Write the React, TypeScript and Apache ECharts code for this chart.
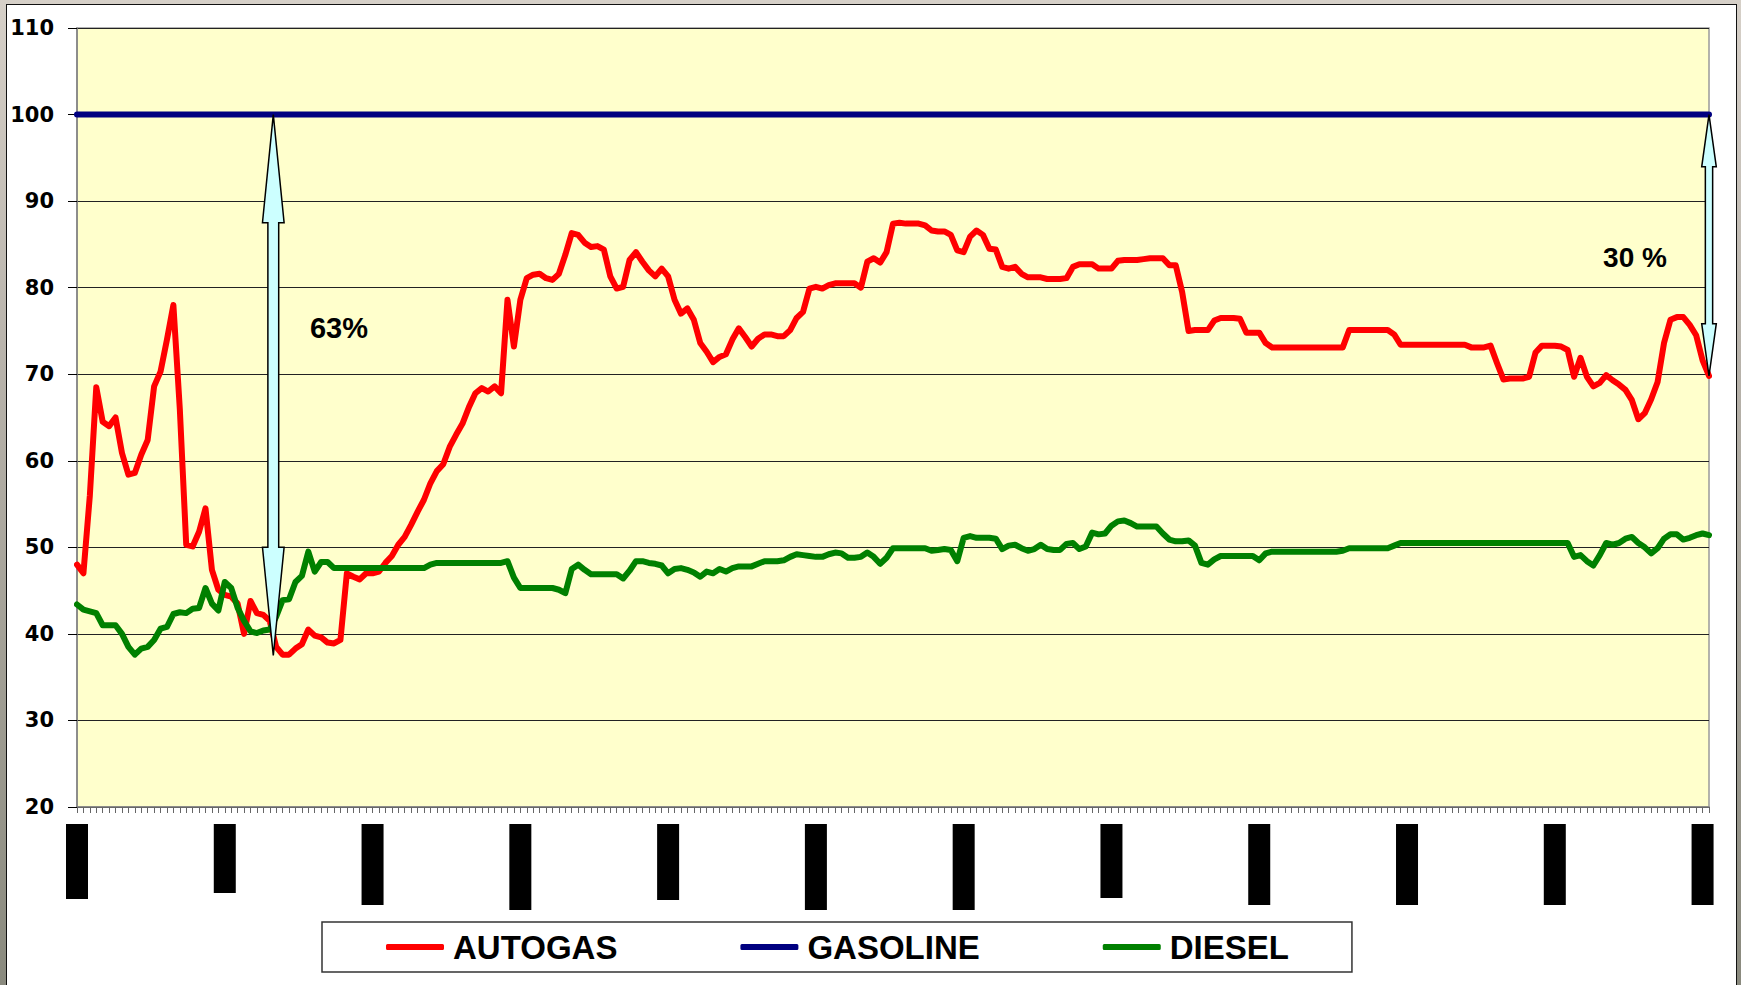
import { useEffect, useRef } from "react";
import * as echarts from "echarts";

// ---- data (255 weekly points, index = category) ----
const AUTOGAS = [
  48.0, 47.0, 56.0, 68.5, 64.5, 64.0, 65.0, 60.9, 58.4, 58.6, 60.7, 62.4, 68.6, 70.3, 74.0,
  78.0, 66.0, 50.3, 50.1, 51.8, 54.5, 47.4, 45.1, 44.5, 44.3, 43.5, 40.0, 43.8, 42.4, 42.2,
  41.5, 38.5, 37.6, 37.6, 38.3, 38.8, 40.5, 39.8, 39.6, 39.0, 38.9, 39.3, 47.0, 46.6, 46.3,
  47.0, 47.0, 47.2, 48.2, 49.0, 50.3, 51.2, 52.6, 54.1, 55.5, 57.4, 58.8, 59.6, 61.6, 63.0,
  64.3, 66.2, 67.8, 68.4, 68.0, 68.6, 67.8, 78.6, 73.2, 78.6, 81.1, 81.5, 81.6, 81.1, 80.9,
  81.6, 83.8, 86.3, 86.1, 85.2, 84.7, 84.8, 84.4, 81.3, 79.9, 80.1, 83.2, 84.1, 83.0, 82.0,
  81.3, 82.2, 81.3, 78.6, 77.0, 77.6, 76.3, 73.6, 72.6, 71.4, 72.0, 72.3, 74.0, 75.3, 74.3,
  73.2, 74.1, 74.6, 74.6, 74.4, 74.4, 75.1, 76.5, 77.2, 79.9, 80.1, 79.9, 80.3, 80.5, 80.5,
  80.5, 80.5, 80.0, 83.0, 83.4, 82.9, 84.1, 87.4, 87.5, 87.4, 87.4, 87.4, 87.2, 86.6, 86.5,
  86.5, 86.1, 84.3, 84.1, 85.9, 86.6, 86.1, 84.5, 84.4, 82.4, 82.2, 82.4, 81.6, 81.2, 81.2,
  81.2, 81.0, 81.0, 81.0, 81.1, 82.4, 82.7, 82.7, 82.7, 82.2, 82.2, 82.2, 83.1, 83.2, 83.2,
  83.2, 83.3, 83.4, 83.4, 83.4, 82.6, 82.6, 79.5, 75.0, 75.1, 75.1, 75.1, 76.2, 76.5, 76.5,
  76.5, 76.4, 74.8, 74.8, 74.8, 73.6, 73.1, 73.1, 73.1, 73.1, 73.1, 73.1, 73.1, 73.1, 73.1,
  73.1, 73.1, 73.1, 75.1, 75.1, 75.1, 75.1, 75.1, 75.1, 75.1, 74.6, 73.4, 73.4, 73.4, 73.4,
  73.4, 73.4, 73.4, 73.4, 73.4, 73.4, 73.4, 73.1, 73.1, 73.1, 73.3, 71.3, 69.4, 69.5, 69.5,
  69.5, 69.7, 72.5, 73.3, 73.3, 73.3, 73.2, 72.8, 69.7, 71.9, 69.7, 68.6, 69.0, 69.9, 69.3,
  68.8, 68.2, 67.0, 64.8, 65.5, 67.1, 69.1, 73.6, 76.3, 76.6, 76.6, 75.7, 74.5, 71.6, 69.8,
];

const GASOLINE = [
  100, 100, 100, 100, 100, 100, 100, 100, 100, 100, 100, 100, 100, 100, 100,
  100, 100, 100, 100, 100, 100, 100, 100, 100, 100, 100, 100, 100, 100, 100,
  100, 100, 100, 100, 100, 100, 100, 100, 100, 100, 100, 100, 100, 100, 100,
  100, 100, 100, 100, 100, 100, 100, 100, 100, 100, 100, 100, 100, 100, 100,
  100, 100, 100, 100, 100, 100, 100, 100, 100, 100, 100, 100, 100, 100, 100,
  100, 100, 100, 100, 100, 100, 100, 100, 100, 100, 100, 100, 100, 100, 100,
  100, 100, 100, 100, 100, 100, 100, 100, 100, 100, 100, 100, 100, 100, 100,
  100, 100, 100, 100, 100, 100, 100, 100, 100, 100, 100, 100, 100, 100, 100,
  100, 100, 100, 100, 100, 100, 100, 100, 100, 100, 100, 100, 100, 100, 100,
  100, 100, 100, 100, 100, 100, 100, 100, 100, 100, 100, 100, 100, 100, 100,
  100, 100, 100, 100, 100, 100, 100, 100, 100, 100, 100, 100, 100, 100, 100,
  100, 100, 100, 100, 100, 100, 100, 100, 100, 100, 100, 100, 100, 100, 100,
  100, 100, 100, 100, 100, 100, 100, 100, 100, 100, 100, 100, 100, 100, 100,
  100, 100, 100, 100, 100, 100, 100, 100, 100, 100, 100, 100, 100, 100, 100,
  100, 100, 100, 100, 100, 100, 100, 100, 100, 100, 100, 100, 100, 100, 100,
  100, 100, 100, 100, 100, 100, 100, 100, 100, 100, 100, 100, 100, 100, 100,
  100, 100, 100, 100, 100, 100, 100, 100, 100, 100, 100, 100, 100, 100, 100,
];

const DIESEL = [
  43.4, 42.8, 42.6, 42.4, 41.0, 41.0, 41.0, 40.0, 38.5, 37.6, 38.3, 38.5, 39.3, 40.6, 40.8,
  42.3, 42.5, 42.4, 42.9, 43.0, 45.3, 43.5, 42.7, 46.0, 45.3, 43.0, 41.5, 40.3, 40.1, 40.4,
  40.5, 42.0, 43.9, 44.0, 46.0, 46.7, 49.5, 47.2, 48.3, 48.3, 47.6, 47.6, 47.6, 47.6, 47.6,
  47.6, 47.6, 47.6, 47.6, 47.6, 47.6, 47.6, 47.6, 47.6, 47.6, 48.0, 48.2, 48.2, 48.2, 48.2,
  48.2, 48.2, 48.2, 48.2, 48.2, 48.2, 48.2, 48.4, 46.5, 45.3, 45.3, 45.3, 45.3, 45.3, 45.3,
  45.1, 44.7, 47.5, 48.0, 47.4, 46.9, 46.9, 46.9, 46.9, 46.9, 46.4, 47.3, 48.4, 48.4, 48.2,
  48.1, 47.9, 47.0, 47.5, 47.6, 47.4, 47.1, 46.6, 47.2, 47.0, 47.5, 47.2, 47.6, 47.8, 47.8,
  47.8, 48.1, 48.4, 48.4, 48.4, 48.5, 48.9, 49.2, 49.1, 49.0, 48.9, 48.9, 49.2, 49.4, 49.3,
  48.8, 48.8, 48.9, 49.4, 48.9, 48.1, 48.8, 49.9, 49.9, 49.9, 49.9, 49.9, 49.9, 49.6, 49.7,
  49.8, 49.7, 48.4, 51.1, 51.3, 51.1, 51.1, 51.1, 51.0, 49.8, 50.2, 50.3, 49.9, 49.6, 49.8,
  50.3, 49.8, 49.7, 49.7, 50.4, 50.5, 49.8, 50.1, 51.7, 51.5, 51.6, 52.5, 53.0, 53.1, 52.8,
  52.4, 52.4, 52.4, 52.4, 51.6, 50.9, 50.7, 50.7, 50.8, 50.2, 48.2, 48.0, 48.6, 49.0, 49.0,
  49.0, 49.0, 49.0, 49.0, 48.5, 49.3, 49.5, 49.5, 49.5, 49.5, 49.5, 49.5, 49.5, 49.5, 49.5,
  49.5, 49.5, 49.6, 49.9, 49.9, 49.9, 49.9, 49.9, 49.9, 49.9, 50.2, 50.5, 50.5, 50.5, 50.5,
  50.5, 50.5, 50.5, 50.5, 50.5, 50.5, 50.5, 50.5, 50.5, 50.5, 50.5, 50.5, 50.5, 50.5, 50.5,
  50.5, 50.5, 50.5, 50.5, 50.5, 50.5, 50.5, 50.5, 48.9, 49.1, 48.4, 47.9, 49.1, 50.5, 50.3,
  50.5, 51.0, 51.2, 50.5, 50.0, 49.3, 49.9, 51.0, 51.5, 51.5, 50.9, 51.1, 51.4, 51.6, 51.4,
];

const CATEGORIES = AUTOGAS.map((_, i) => `${i + 1}`);
const SERIES_NAMES = ["AUTOGAS", "GASOLINE", "DIESEL"];
const Y_MIN = 20;
const Y_MAX = 110;
const Y_STEP = 10;

// gap arrows: category index, fractional offset, top value, bottom value
const ARROW_INDEX = [30, 254];
const ARROW_OFFSET = [0.55, 0];
const ARROW_TOP = [100, 100];
const ARROW_BOTTOM = [37.5, 69.8];
const ANNOTATION_TEXTS = ["63%", "30 %"];

// ---- styling ----
const LABEL_EVERY = 23;
const LABEL_BAR_HEIGHTS = [75, 69, 81, 86, 76, 86, 86, 74, 81, 81, 81, 81];
const COLORS = ["#FF0000", "#000080", "#008000"];
const FONT = '"Liberation Sans", Arial, Helvetica, sans-serif';

export default function App() {
  const ref = useRef<HTMLDivElement>(null);

  useEffect(() => {
    if (!ref.current) return;
    const chart = echarts.init(ref.current, null, { renderer: "svg" });

    const rich: Record<string, any> = {};
    LABEL_BAR_HEIGHTS.forEach((h, k) => {
      rich["b" + k] = { width: 22, height: h, backgroundColor: "#000", color: "#000" };
    });

    const lineSeries = [AUTOGAS, GASOLINE, DIESEL].map((d, i) => ({
      name: SERIES_NAMES[i],
      type: "line",
      data: d,
      showSymbol: false,
      symbol: "none",
      z: 3 + i,
      lineStyle: { color: COLORS[i], width: 6, cap: "round", join: "round" },
      itemStyle: { color: COLORS[i] },
    }));

    const arrowData = ARROW_INDEX.map((x, i) => [x, ARROW_OFFSET[i], ARROW_TOP[i], ARROW_BOTTOM[i]]);

    chart.setOption({
      animation: false,
      backgroundColor: "transparent",
      color: COLORS,
      textStyle: { fontFamily: FONT },
      grid: {
        left: 77,
        top: 28,
        right: 32,
        bottom: 178,
        show: true,
        backgroundColor: "#FFFFCC",
        borderColor: "#9a9a9a",
        borderWidth: 1.5,
      },
      legend: {
        data: SERIES_NAMES,
        left: 322,
        top: 922,
        orient: "horizontal",
        padding: [6, 63, 6, 64],
        itemGap: 123,
        itemWidth: 58,
        itemHeight: 6,
        icon: "roundRect",
        borderColor: "#333",
        borderWidth: 1.5,
        backgroundColor: "#fff",
        selectedMode: false,
        textStyle: {
          fontSize: 33,
          fontWeight: "bold",
          color: "#000",
          fontFamily: FONT,
          padding: [0, 0, 0, 4],
          lineHeight: 38,
        },
      },
      xAxis: {
        type: "category",
        data: CATEGORIES,
        boundaryGap: false,
        axisLine: { show: true, lineStyle: { color: "#808080", width: 1.5 } },
        axisTick: { show: true, interval: 0, length: 6, lineStyle: { color: "#666" } },
        axisLabel: {
          interval: LABEL_EVERY - 1,
          margin: 17,
          formatter: (_v: string, idx: number) => `{b${Math.round(idx / LABEL_EVERY)}| }`,
          rich,
        },
        splitLine: { show: false },
      },
      yAxis: {
        type: "value",
        min: Y_MIN,
        max: Y_MAX,
        interval: Y_STEP,
        axisLine: { show: true, lineStyle: { color: "#808080", width: 1.5 } },
        axisTick: { show: true, length: 9, lineStyle: { color: "#000" } },
        axisLabel: {
          color: "#000",
          fontSize: 21,
          fontWeight: "bold",
          fontFamily: '"DejaVu Sans", Verdana, sans-serif',
          margin: 23,
        },
        splitLine: { show: true, lineStyle: { color: "#222", width: 1 } },
      },
      series: [
        ...lineSeries,
        {
          name: "arrows",
          type: "custom",
          z: 10,
          clip: false,
          silent: true,
          encode: { x: 0, y: 2 },
          data: arrowData,
          renderItem: (_p: any, api: any) => {
            const idx = api.value(0);
            const off = api.value(1);
            const top = api.coord([idx, api.value(2)]);
            const bot = api.coord([idx, api.value(3)]);
            const w = api.size([1, 0])[0];
            const x = top[0] + off * w;
            const y1 = top[1];
            const y2 = bot[1];
            const L = y2 - y1;
            const hl = 0.2 * L;
            const hw = 4 + 0.0126 * L;
            const sw = hw * 0.5;
            const points = [
              [x, y1],
              [x + hw, y1 + hl],
              [x + sw, y1 + hl],
              [x + sw, y2 - hl],
              [x + hw, y2 - hl],
              [x, y2],
              [x - hw, y2 - hl],
              [x - sw, y2 - hl],
              [x - sw, y1 + hl],
              [x - hw, y1 + hl],
            ];
            return {
              type: "polygon",
              shape: { points },
              style: { fill: "#CCFFFF", stroke: "#000", lineWidth: 1.5 },
            };
          },
        },
      ],
      graphic: [
        {
          type: "text",
          x: 339,
          y: 328,
          z: 20,
          style: {
            text: ANNOTATION_TEXTS[0],
            fill: "#000",
            font: `bold 29px ${FONT}`,
            align: "center",
            verticalAlign: "middle",
            textAlign: "center",
            textVerticalAlign: "middle",
          },
        },
        {
          type: "text",
          x: 1635,
          y: 257,
          z: 20,
          style: {
            text: ANNOTATION_TEXTS[1],
            fill: "#000",
            font: `bold 28px ${FONT}`,
            align: "center",
            verticalAlign: "middle",
            textAlign: "center",
            textVerticalAlign: "middle",
          },
        },
      ],
    });

    return () => {
      chart.dispose();
    };
  }, []);

  return (
    <div
      style={{
        position: "fixed",
        left: 0,
        top: 0,
        width: 1741,
        height: 985,
        overflow: "hidden",
        background: "linear-gradient(to bottom, #d6d0c8 0%, #b9b4ac 35%, #8a8a7e 100%)",
      }}
    >
      <div
        style={{
          position: "absolute",
          left: 6,
          top: 4,
          width: 1731,
          height: 1000,
          background: "#ffffff",
          border: "1.5px solid #111",
          boxSizing: "border-box",
        }}
      />
      <div ref={ref} style={{ position: "absolute", left: 0, top: 0, width: 1741, height: 985 }} />
    </div>
  );
}
